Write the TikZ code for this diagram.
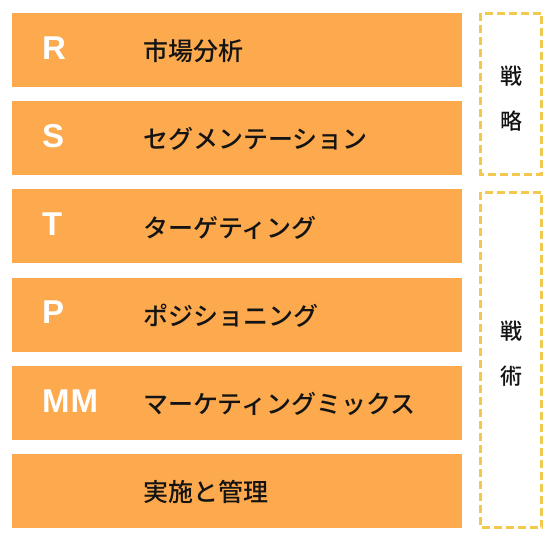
\documentclass[tikz,border=0pt]{standalone}
\usepackage{fontspec}
\setmainfont{Liberation Sans}
\newfontfamily\jpfont{Noto Sans CJK JP Medium}
\definecolor{barorange}{RGB}{253,169,77}
\definecolor{dashyellow}{RGB}{242,200,78}
\definecolor{textblack}{RGB}{20,20,20}
\tikzset{
  bar/.style={fill=barorange, draw=none},
  letter/.style={anchor=west, inner sep=0pt, text=white, font=\bfseries\fontsize{33}{33}\selectfont},
  label/.style={anchor=west, inner sep=0pt, text=textblack, font=\jpfont\fontsize{25}{25}\selectfont},
  groupbox/.style={draw=dashyellow, line width=3pt, dash pattern=on 8pt off 4pt},
  grouptext/.style={inner sep=0pt, text=textblack, font=\jpfont\fontsize{22}{22}\selectfont}
}
\begin{document}
\begin{tikzpicture}[x=1pt,y=-1pt]
\useasboundingbox (0,0) rectangle (557,545);
% bars
\foreach \i/\top in {1/13,2/101.2,3/189.4,4/277.6,5/365.8,6/454}{
  \path[bar] (12,\top) rectangle (462,\top+74);
}
% letters
\node[letter] (lR) at (42,48) {R};
\node[letter] (lS) at (42,136.2) {S};
\node[letter] (lT) at (42,224.4) {T};
\node[letter] (lP) at (42,312.6) {P};
\node[letter] (lMM) at (42,400.8) {M\kern1pt M};
% labels
\node[label] (t1) at (143,51) {市場分析};
\node[label] (t2) at (143,139.2) {セグメンテーション};
\node[label] (t3) at (143,227.4) {ターゲティング};
\node[label] (t4) at (143,315.6) {ポジショニング};
\node[label] (t5) at (143,403.8) {マーケティングミックス};
\node[label] (t6) at (143,492) {実施と管理};
% group boxes
\draw[groupbox] (480.5,13.5) rectangle (541.5,174.5);
\draw[groupbox] (480.5,192.5) rectangle (541.5,527.5);
\node[grouptext] (g1a) at (511,76) {戦};
\node[grouptext] (g1b) at (511,121) {略};
\node[grouptext] (g2a) at (511,331) {戦};
\node[grouptext] (g2b) at (511,376) {術};
\end{tikzpicture}
\end{document}
